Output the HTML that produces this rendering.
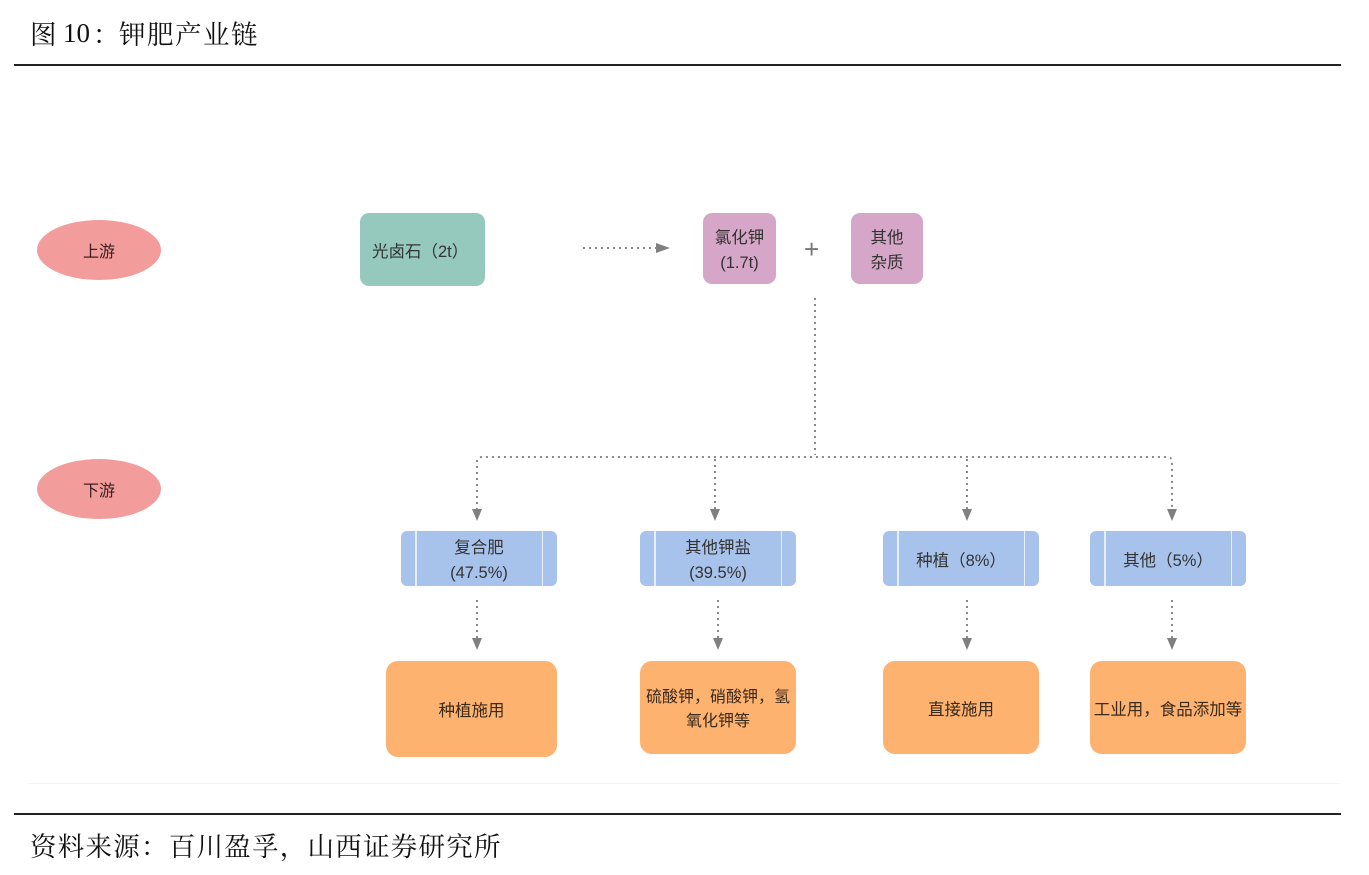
<!DOCTYPE html>
<html><head><meta charset="utf-8">
<style>
*{margin:0;padding:0;box-sizing:border-box}
body{width:1369px;height:875px;background:#fff;position:relative;overflow:hidden;font-family:"Liberation Sans","Noto Sans CJK SC",sans-serif;color:#333}
.abs{position:absolute}
.title{left:30px;top:14px;font-family:"Noto Serif CJK SC","Liberation Serif",serif;font-size:26.5px;line-height:38px;color:#111;white-space:nowrap}
.title span{position:absolute;top:0}
.foot{left:30px;top:826px;font-family:"Noto Serif CJK SC","Liberation Serif",serif;font-size:26.5px;line-height:38px;color:#111;white-space:nowrap}
.foot span{display:inline-block;width:27.75px;text-align:left}
.rule{left:14px;width:1327px;height:2px;background:#222}
.box{position:absolute;display:flex;align-items:center;justify-content:center;text-align:center;font-size:16.5px;line-height:25px;color:#333;border-radius:9px;padding-top:5px}
.ell{position:absolute;border-radius:50%;background:#f29d9b;display:flex;align-items:center;justify-content:center;font-size:16px;color:#3a2020}
.teal{background:#95c9bd}
.pink{background:#d5a6c7}
.blue{background:#a8c3eb;border-radius:6px}
.blue:before,.blue:after{content:"";position:absolute;top:0;bottom:0;width:1.5px;background:#e6eefb}
.blue:before{left:14px}
.blue:after{right:14px}
.orange{background:#fdb270;border-radius:12px;color:#3a2a1a}
</style></head><body>
<div class="abs title" style="left:0;width:300px;height:40px">
<span style="left:30px">图</span><span style="left:63px;font-family:'Liberation Serif',serif;font-size:27px">10</span><span style="left:93px">：</span><span style="left:119px">钾</span><span style="left:147px">肥</span><span style="left:175px">产</span><span style="left:203px">业</span><span style="left:231px">链</span>
</div>
<div class="abs rule" style="top:64px"></div>
<div class="abs" style="left:28px;top:783px;width:1312px;height:1px;background:#f2f2f2"></div>
<div class="abs rule" style="top:813px"></div>
<div class="abs foot"><span>资</span><span>料</span><span>来</span><span>源</span><span>：</span><span>百</span><span>川</span><span>盈</span><span>孚</span><span>，</span><span>山</span><span>西</span><span>证</span><span>券</span><span>研</span><span>究</span><span>所</span></div>

<div class="ell" style="left:37px;top:220px;width:124px;height:60px">上游</div>
<div class="ell" style="left:37px;top:459px;width:124px;height:60px">下游</div>

<div class="box teal" style="left:360px;top:213px;width:125px;height:73px;justify-content:flex-start;padding-left:12px">光卤石（2t）</div>
<div class="box pink" style="left:703px;top:213px;width:73px;height:71px">氯化钾<br>(1.7t)</div>
<div class="abs" style="left:804px;top:234px;font-size:26px;color:#777;line-height:30px">+</div>
<div class="box pink" style="left:851px;top:213px;width:72px;height:71px">其他<br>杂质</div>

<svg class="abs" style="left:0;top:0" width="1369" height="875">
<g stroke="#888" stroke-width="2" stroke-dasharray="2 4" fill="none">
<line x1="583" y1="248" x2="656" y2="248"/>
<line x1="815" y1="298" x2="815" y2="455"/>
<path d="M477 510 V462 Q477 457 482 457 H1167 Q1172 457 1172 462 V510"/>
<line x1="715" y1="459" x2="715" y2="510"/>
<line x1="967" y1="459" x2="967" y2="510"/>
<line x1="477" y1="600" x2="477" y2="638"/>
<line x1="718" y1="600" x2="718" y2="638"/>
<line x1="967" y1="600" x2="967" y2="638"/>
<line x1="1172" y1="600" x2="1172" y2="638"/>
</g>
<g fill="#808080">
<polygon points="656,243 670,248 656,253"/>
<polygon points="472,509 482,509 477,521"/>
<polygon points="710,509 720,509 715,521"/>
<polygon points="962,509 972,509 967,521"/>
<polygon points="1167,509 1177,509 1172,521"/>
<polygon points="472,638 482,638 477,650"/>
<polygon points="713,638 723,638 718,650"/>
<polygon points="962,638 972,638 967,650"/>
<polygon points="1167,638 1177,638 1172,650"/>
</g>
</svg>

<div class="box blue" style="left:401px;top:531px;width:156px;height:55px">复合肥<br>(47.5%)</div>
<div class="box blue" style="left:640px;top:531px;width:156px;height:55px">其他钾盐<br>(39.5%)</div>
<div class="box blue" style="left:883px;top:531px;width:156px;height:55px">种植（8%）</div>
<div class="box blue" style="left:1090px;top:531px;width:156px;height:55px">其他（5%）</div>

<div class="box orange" style="left:386px;top:661px;width:171px;height:96px">种植施用</div>
<div class="box orange" style="left:640px;top:661px;width:156px;height:93px;font-size:16px;line-height:24px">硫酸钾，硝酸钾，氢<br>氧化钾等</div>
<div class="box orange" style="left:883px;top:661px;width:156px;height:93px">直接施用</div>
<div class="box orange" style="left:1090px;top:661px;width:156px;height:93px;font-size:16.5px;white-space:nowrap">工业用，食品添加等</div>
</body></html>
